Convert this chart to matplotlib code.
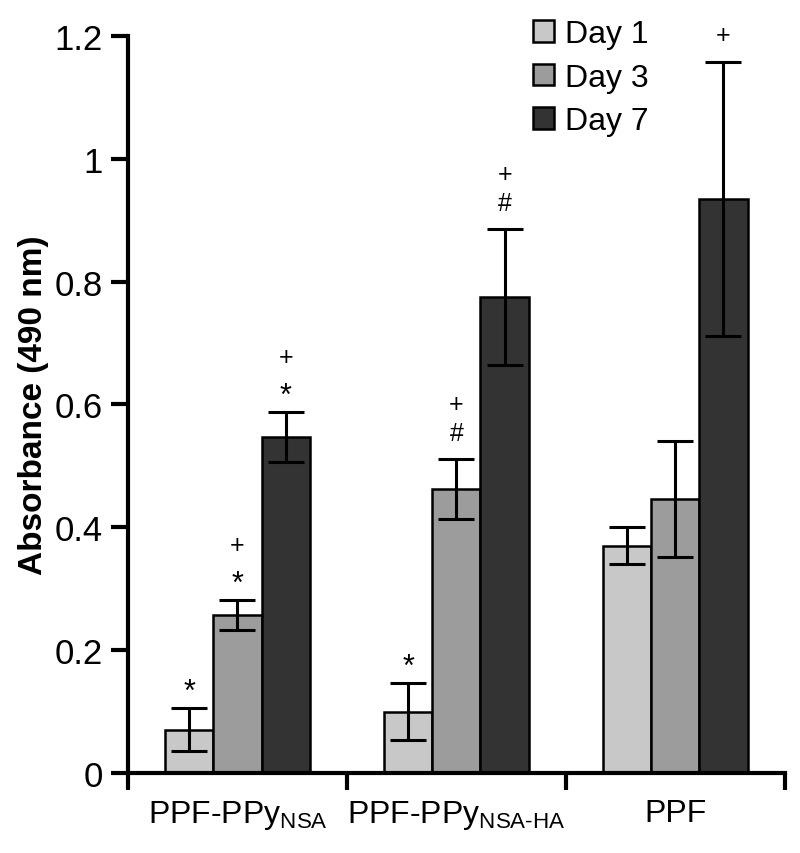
import matplotlib
matplotlib.use("Agg")
import matplotlib.pyplot as plt
import numpy as np
from matplotlib.patches import Patch

plt.rcParams['font.family'] = ['Liberation Sans', 'DejaVu Sans']
plt.rcParams['mathtext.fontset'] = 'custom'
plt.rcParams['mathtext.rm'] = 'Liberation Sans'
plt.rcParams['mathtext.it'] = 'Liberation Sans'

categories = ["PPF-PPy$_{\\text{NSA}}$", "PPF-PPy$_{\\text{NSA-HA}}$", "PPF"]
series = ["Day 1", "Day 3", "Day 7"]
means = {
    "Day 1": [0.070, 0.100, 0.370],
    "Day 3": [0.257, 0.462, 0.446],
    "Day 7": [0.547, 0.775, 0.935],
}
errors = {
    "Day 1": [0.035, 0.046, 0.030],
    "Day 3": [0.024, 0.049, 0.095],
    "Day 7": [0.040, 0.110, 0.223],
}
# significance marks, listed bottom-to-top above each bar
marks = {
    "Day 1": [["*"], ["*"], []],
    "Day 3": [["*", "+"], ["#", "+"], []],
    "Day 7": [["*", "+"], ["#", "+"], ["+"]],
}
colors = {"Day 1": "#c8c8c8", "Day 3": "#9c9c9c", "Day 7": "#333333"}

fig = plt.figure(figsize=(8, 8.54), dpi=100)
ax = fig.add_axes([0.16, 0.0937, 0.821, 0.863])

x = np.arange(len(categories)) + 0.5
w = 0.22
offsets = [-w, 0, w]
for s, off in zip(series, offsets):
    ax.bar(x + off, means[s], w, color=colors[s], edgecolor='black', linewidth=1.8, zorder=2)
    ax.errorbar(x + off, means[s], yerr=errors[s], fmt='none', ecolor='black',
                elinewidth=2.2, capsize=13, capthick=2.2, zorder=3)
    for xi, m, e, mk in zip(x + off, means[s], errors[s], marks[s]):
        for k, sym in enumerate(mk):
            ypos = m + e + 0.043 + 0.047 * k
            if sym == "*":
                ax.text(xi, ypos - 0.016, sym, ha='center', va='center', fontsize=22)
            elif sym == "#":
                ax.text(xi, ypos, sym, ha='center', va='center', fontsize=18)
            else:
                ax.text(xi, ypos, sym, ha='center', va='center', fontsize=18)

ax.set_xlim(0, 3)
ax.set_ylim(0, 1.2)
ax.set_yticks([0, 0.2, 0.4, 0.6, 0.8, 1.0, 1.2])
ax.set_yticklabels(["0", "0.2", "0.4", "0.6", "0.8", "1", "1.2"])
ax.set_xticks([0, 1, 2, 3])
ax.set_xticklabels([])
ax.set_xticks(x, minor=True)
ax.set_xticklabels(categories, minor=True)
ax.tick_params(axis='x', which='minor', length=0, pad=18, labelsize=23)
ax.tick_params(axis='x', which='major', length=12, width=3, direction='out')
ax.tick_params(axis='y', length=12, width=3, direction='out', labelsize=25, pad=6)

for sp in ['top', 'right']:
    ax.spines[sp].set_visible(False)
for sp in ['left', 'bottom']:
    ax.spines[sp].set_linewidth(3)

ax.set_ylabel("Absorbance (490 nm)", fontsize=24, fontweight='bold', labelpad=4)

handles = [Patch(facecolor=colors[s], edgecolor='black', linewidth=1.8) for s in series]
ax.legend(handles, series, loc='upper left', bbox_to_anchor=(0.597, 1.040), frameon=False,
          fontsize=23, handlelength=0.65, handleheight=0.65, handletextpad=0.35,
          labelspacing=0.42, borderaxespad=0)

fig.savefig("out.png", dpi=100)
